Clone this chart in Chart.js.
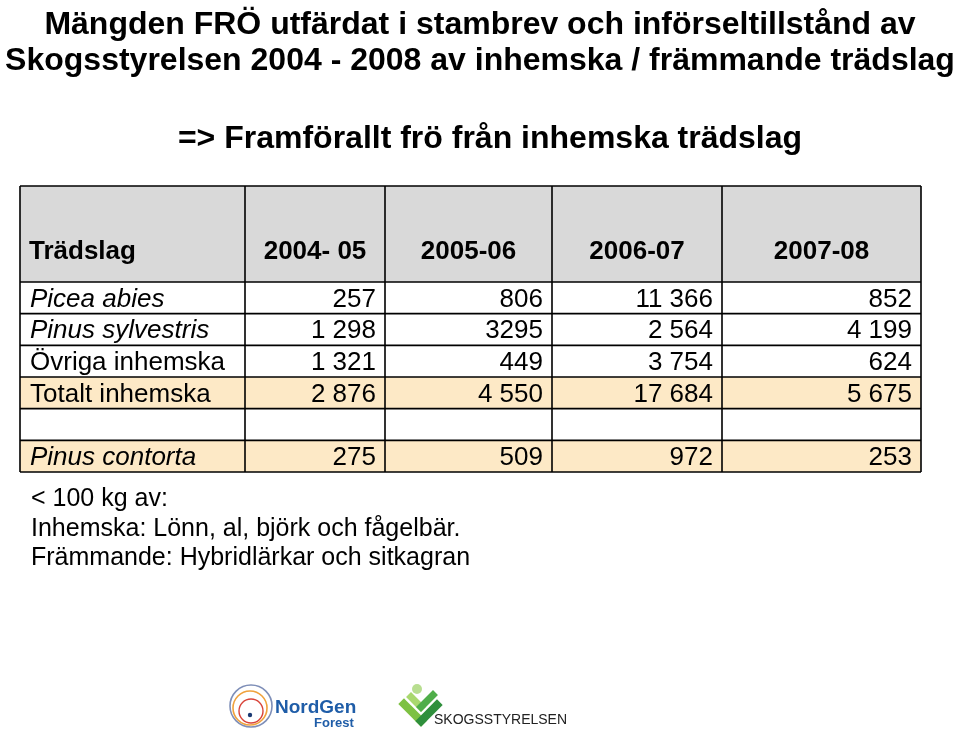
<!DOCTYPE html>
<html>
<head>
<meta charset="utf-8">
<title>Mängden FRÖ</title>
<script src="https://cdn.jsdelivr.net/npm/chart.js@4.4.0/dist/chart.umd.min.js"></script>
<style>
    html, body { margin: 0; padding: 0; background: #fff; }
    canvas { display: block; }
</style>
</head>
<body>
<canvas id="seed-table" width="960" height="732"></canvas>
<script>
'use strict';

// Table data
const titleLines = [
    'Mängden FRÖ utfärdat i stambrev och införseltillstånd av',
    'Skogsstyrelsen 2004 - 2008 av inhemska / främmande trädslag'
];
const subtitle = '=> Framförallt frö från inhemska trädslag';
const columns = ['Trädslag', '2004- 05', '2005-06', '2006-07', '2007-08'];
const rowNames = ['Picea abies', 'Pinus sylvestris', 'Övriga inhemska', 'Totalt inhemska', '', 'Pinus contorta'];
const piceaAbies = ['257', '806', '11 366', '852'];
const pinusSylvestris = ['1 298', '3295', '2 564', '4 199'];
const ovrigaInhemska = ['1 321', '449', '3 754', '624'];
const totaltInhemska = ['2 876', '4 550', '17 684', '5 675'];
const emptyRow = [];
const pinusContorta = ['275', '509', '972', '253'];
const notes = [
    '< 100 kg av:',
    'Inhemska: Lönn, al, björk och fågelbär.',
    'Främmande: Hybridlärkar och sitkagran'
];

const rowValues = [piceaAbies, pinusSylvestris, ovrigaInhemska, totaltInhemska, emptyRow, pinusContorta];

// Layout / styling
const FONT = '"Liberation Sans", Arial, Helvetica, sans-serif';
const colWidths = [225, 140, 167, 170, 199];
const headerHeight = 96;
const italicRows = [0, 1, 5];
const shadedRows = [3, 5];
const HEADER_FILL = '#d9d9d9';
const SHADE_FILL = '#fde9c6';

/**
 * Draws the table cells, titles and footer from the chart scales
 */
const tablePlugin = {
    id: 'seedTable',
    afterDraw(chart) {
        const ctx = chart.ctx;
        const xScale = chart.scales.x;
        const yScale = chart.scales.y;
        const area = chart.chartArea;

        // Column edges through the x scale
        const edges = [0];
        colWidths.forEach(w => edges.push(edges[edges.length - 1] + w));
        const xs = edges.map(v => xScale.getPixelForValue(v));

        // Row bands through the y scale
        const half = (yScale.getPixelForValue(1) - yScale.getPixelForValue(0)) / 2;
        const rowTop = i => yScale.getPixelForValue(i) - half;
        const rowBottom = i => yScale.getPixelForValue(i) + half;
        const headTop = area.top - headerHeight;

        ctx.save();

        // Fills
        ctx.fillStyle = HEADER_FILL;
        ctx.fillRect(xs[0], headTop, xs[xs.length - 1] - xs[0], headerHeight);
        shadedRows.forEach(function(r) {
            ctx.fillStyle = SHADE_FILL;
            ctx.fillRect(xs[0], rowTop(r), xs[xs.length - 1] - xs[0], rowBottom(r) - rowTop(r));
        });

        // Grid lines
        ctx.strokeStyle = '#000';
        ctx.lineWidth = 1.6;
        ctx.beginPath();
        xs.forEach(function(px) {
            ctx.moveTo(px, headTop);
            ctx.lineTo(px, rowBottom(rowNames.length - 1));
        });
        ctx.moveTo(xs[0], headTop);
        ctx.lineTo(xs[xs.length - 1], headTop);
        for (let r = 0; r < rowNames.length; r++) {
            ctx.moveTo(xs[0], rowTop(r));
            ctx.lineTo(xs[xs.length - 1], rowTop(r));
        }
        ctx.moveTo(xs[0], rowBottom(rowNames.length - 1));
        ctx.lineTo(xs[xs.length - 1], rowBottom(rowNames.length - 1));
        ctx.stroke();

        ctx.fillStyle = '#000';
        ctx.textBaseline = 'alphabetic';

        // Header row
        ctx.font = 'bold 26px ' + FONT;
        const headBase = area.top - 23;
        columns.forEach(function(label, c) {
            if (c === 0) {
                ctx.textAlign = 'left';
                ctx.fillText(label, xs[0] + 9, headBase);
            } else {
                ctx.textAlign = 'center';
                ctx.fillText(label, (xs[c] + xs[c + 1]) / 2, headBase);
            }
        });

        // Body rows
        rowNames.forEach(function(name, r) {
            const base = rowBottom(r) - 7;
            const italic = italicRows.indexOf(r) !== -1;
            ctx.font = (italic ? 'italic ' : '') + '26px ' + FONT;
            ctx.textAlign = 'left';
            ctx.fillText(name, xs[0] + 10, base);
            ctx.font = '26px ' + FONT;
            ctx.textAlign = 'right';
            rowValues[r].forEach(function(val, c) {
                ctx.fillText(val, xs[c + 2] - 9, base);
            });
        });

        // Titles
        const cx = chart.width / 2;
        ctx.textAlign = 'center';
        ctx.font = 'bold 32px ' + FONT;
        ctx.fillText(titleLines[0], cx, 34);
        ctx.fillText(titleLines[1], cx, 70);
        ctx.fillText(subtitle, cx + 10, 148);

        // Notes under the table
        ctx.textAlign = 'left';
        ctx.font = '25px ' + FONT;
        const notesTop = rowBottom(rowNames.length - 1) + 34;
        notes.forEach(function(line, i) {
            ctx.fillText(line, xs[0] + 11, notesTop + i * 29.5);
        });

        drawLogos(ctx);
        ctx.restore();
    }
};

/**
 * Rough versions of the two footer logos
 */
function drawLogos(ctx) {
    // NordGen rings
    const rings = [
        { x: 251, y: 706, r: 21, c: '#7f8fb8', w: 1.6 },
        { x: 250, y: 708, r: 17, c: '#f0a23c', w: 1.6 },
        { x: 251, y: 711, r: 12, c: '#d9443a', w: 1.4 }
    ];
    rings.forEach(function(g) {
        ctx.beginPath();
        ctx.strokeStyle = g.c;
        ctx.lineWidth = g.w;
        ctx.arc(g.x, g.y, g.r, 0, Math.PI * 2);
        ctx.stroke();
    });
    ctx.beginPath();
    ctx.fillStyle = '#1b3a73';
    ctx.arc(250, 715, 2.2, 0, Math.PI * 2);
    ctx.fill();

    ctx.fillStyle = '#1f5da8';
    ctx.textAlign = 'left';
    ctx.font = 'bold 19px ' + FONT;
    ctx.fillText('NordGen', 275, 713);
    ctx.font = 'bold 13px ' + FONT;
    ctx.fillText('Forest', 314, 727);

    // Skogsstyrelsen chevrons
    const arms = [
        { a: [404, 704], b: [421, 721], c: '#7dc142', w: 8 },
        { a: [421, 721], b: [437, 705], c: '#2f8f3c', w: 8 },
        { a: [411, 697], b: [421, 707], c: '#a9d86e', w: 7 },
        { a: [421, 707], b: [433, 695], c: '#4fae4a', w: 7 }
    ];
    ctx.lineCap = 'square';
    arms.forEach(function(arm) {
        ctx.beginPath();
        ctx.strokeStyle = arm.c;
        ctx.lineWidth = arm.w;
        ctx.moveTo(arm.a[0], arm.a[1]);
        ctx.lineTo(arm.b[0], arm.b[1]);
        ctx.stroke();
    });
    ctx.lineCap = 'butt';
    ctx.beginPath();
    ctx.fillStyle = '#b8de90';
    ctx.arc(417, 689, 5, 0, Math.PI * 2);
    ctx.fill();

    ctx.fillStyle = '#222';
    ctx.font = '14px ' + FONT;
    ctx.fillText('SKOGSSTYRELSEN', 434, 724);
}

new Chart(document.getElementById('seed-table'), {
    type: 'scatter',
    data: {
        datasets: [{ data: [], pointRadius: 0 }]
    },
    options: {
        responsive: false,
        animation: false,
        layout: {
            padding: { left: 20, right: 39, top: 282, bottom: 260 }
        },
        scales: {
            x: {
                type: 'linear',
                display: false,
                min: 0,
                max: colWidths.reduce((a, b) => a + b, 0)
            },
            y: {
                type: 'category',
                display: false,
                labels: rowNames,
                offset: true
            }
        },
        plugins: {
            legend: { display: false },
            tooltip: { enabled: false }
        }
    },
    plugins: [tablePlugin]
});
</script>
</body>
</html>
